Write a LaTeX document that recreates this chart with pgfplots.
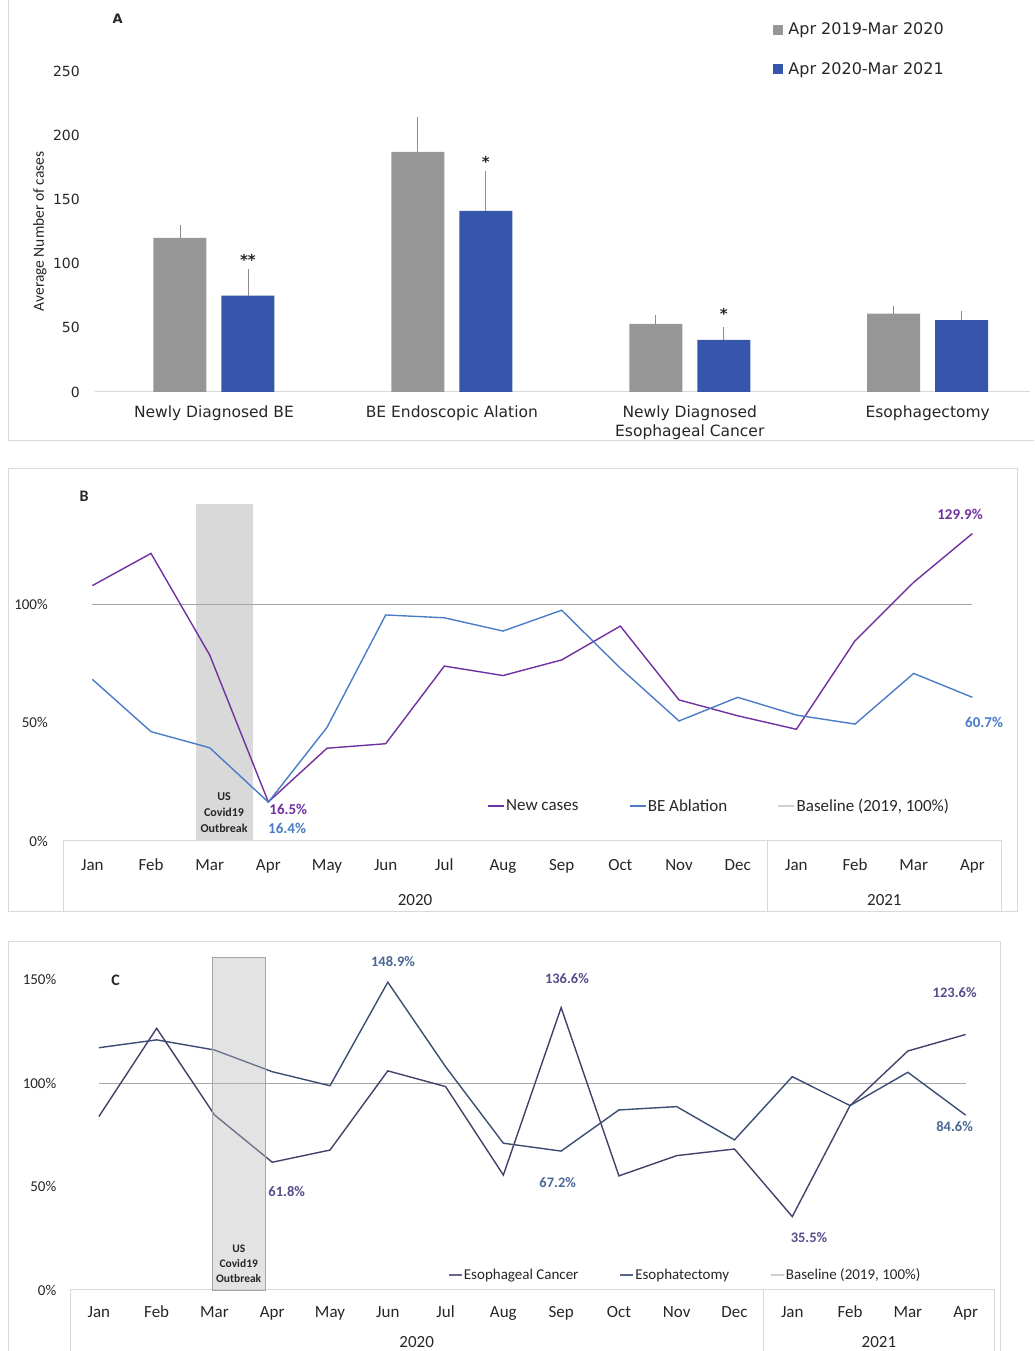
\documentclass[border=0pt]{standalone}
\usepackage{fontspec}
\setmainfont{Carlito}
\newfontfamily\verd{DejaVu Sans}
\usepackage{pgfplots}
\usepackage{pgfplotstable}
\pgfplotsset{compat=1.18}

\definecolor{framegray}{HTML}{D9D9D9}
\definecolor{bargray}{HTML}{969696}
\definecolor{barblue}{HTML}{3656AC}
\definecolor{errgray}{HTML}{8C8C8C}
\definecolor{purpleB}{HTML}{7030A0}
\definecolor{blueB}{HTML}{4A7CC8}
\definecolor{basegray}{HTML}{A6A6A6}
\definecolor{legbase}{HTML}{D0D0D0}
\definecolor{purpleC}{HTML}{45406A}
\definecolor{blueC}{HTML}{3A4D72}
\definecolor{lblpurpleC}{HTML}{5A4B8C}
\definecolor{lblblueC}{HTML}{4A6896}
\definecolor{txt}{HTML}{262626}
\definecolor{shade}{HTML}{D9D9D9}

% Panel B data (percent of 2019 baseline)
\pgfplotstableread{
idx newcases ablation
0  107.9 68.3
1  121.5 46.2
2  78.6  39.4
3  16.5  16.4
4  39.2  48.0
5  41.1  95.5
6  73.9  94.3
7  69.9  88.7
8  76.5  97.5
9  90.8  73.0
10 59.6  50.7
11 52.9  60.7
12 47.2  53.2
13 84.6  49.4
14 109.3 70.8
15 129.9 60.7
}\tableB

% Panel C data
\pgfplotstableread{
idx cancer esophagectomy
0  83.9  117.2
1  126.6 121.0
2  84.7  116.1
3  61.8  105.6
4  67.7  98.8
5  106.0 148.9
6  98.4  108.0
7  55.6  71.0
8  136.6 67.2
9  55.2  87.1
10 65.0  88.7
11 68.2  72.6
12 35.5  103.2
13 89.2  89.2
14 115.6 105.3
15 123.6 84.6
}\tableC

\begin{document}
\begin{tikzpicture}
\path[use as bounding box] (0pt,0pt) rectangle (1034pt,1351pt);
\begin{scope}
\clip (0pt,0pt) rectangle (1034pt,1351pt);
% panel frames
\draw[framegray, line width=1pt] (8pt,910pt) rectangle (1045pt,1360pt);
\draw[framegray, line width=1pt] (8pt,439pt) rectangle (1017pt,882pt);
\draw[framegray, line width=1pt] (8pt,-10pt) rectangle (1000pt,409pt);

% ================= Panel A =================
\begin{axis}[
  at={(95pt,959pt)}, anchor=south west, scale only axis,
  width=935pt, height=321pt,
  xmin=-0.5, xmax=3.43, ymin=0, ymax=250,
  clip=false,
  axis line style={draw=none}, tick style={draw=none},
  xtick={0,1,2,3},
  xticklabels={Newly Diagnosed BE, BE Endoscopic Alation, {Newly Diagnosed\\Esophageal Cancer}, Esophagectomy},
  xticklabel style={font=\verd\fontsize{15.5}{19}\selectfont, align=center, anchor=north, inner sep=0pt, yshift=-14pt, text=txt},
  ytick={0,50,100,150,200,250},
  yticklabels={0,50,100,150,200,250},
  yticklabel style={font=\verd\fontsize{14}{14}\selectfont, anchor=east, inner sep=0pt, xshift=-15pt, text=txt},
  legend image code/.code={\fill[#1] (0pt,-4.5pt) rectangle (9pt,4.5pt);},
  legend style={at={(axis description cs:0.725,1.153)}, anchor=north west, draw=none, fill=none,
    inner sep=0pt, row sep=24pt, font=\verd\fontsize{16}{16}\selectfont, text=txt,
    nodes={inner sep=1pt}, cells={anchor=west},
    /tikz/every odd column/.append style={column sep=5pt}},
]
\draw[framegray, line width=1pt] (axis description cs:0,0) -- (axis description cs:1,0);
\addplot[ybar, bar width=53pt, bar shift=-34pt, fill=bargray, draw=none, forget plot]
  coordinates {(0,120) (1,187) (2,53) (3,61)};
\addplot[ybar, bar width=53pt, bar shift=34pt, fill=barblue, draw=none, forget plot]
  coordinates {(0,75) (1,141) (2,40.5) (3,56)};
% error bars (upper only) at the bar centres
\addplot[draw=none, forget plot,
  error bars/.cd, y dir=plus, y explicit, error mark=|,
  error bar style={draw=errgray, line width=0.8pt},
  error mark options={draw=errgray, mark size=2.5pt, line width=0.8pt, rotate=90}]
  coordinates {(-0.143,120) +- (0,8) (0.857,187) +- (0,25.6) (1.857,53) +- (0,5) (2.857,61) +- (0,4)};
\addplot[draw=none, forget plot,
  error bars/.cd, y dir=plus, y explicit, error mark=|,
  error bar style={draw=errgray, line width=0.8pt},
  error mark options={draw=errgray, mark size=2.5pt, line width=0.8pt, rotate=90}]
  coordinates {(0.143,75) +- (0,18.5) (1.143,141) +- (0,29) (2.143,40.5) +- (0,8.5) (3.143,56) +- (0,5.5)};
\addlegendimage{bargray}
\addlegendentry{Apr 2019-Mar 2020}
\addlegendimage{barblue}
\addlegendentry{Apr 2020-Mar 2021}
\node[font=\verd\bfseries\fontsize{15}{15}\selectfont, text=txt, xshift=34pt] at (axis cs:0,103) {**};
\node[font=\verd\bfseries\fontsize{15}{15}\selectfont, text=txt, xshift=34pt] at (axis cs:1,179) {*};
\node[font=\verd\bfseries\fontsize{15}{15}\selectfont, text=txt, xshift=34pt] at (axis cs:2,61) {*};
\node[font=\verd\bfseries\fontsize{13}{13}\selectfont, text=txt] at (axis cs:-0.405,291) {A};
\node[font=\fontsize{15.5}{15.5}\selectfont, text=txt, rotate=90] at (axis cs:-0.732,125) {Average Number of cases};
\end{axis}

% ================= Panel B =================
\begin{axis}[
  at={(63pt,510pt)}, anchor=south west, scale only axis,
  width=938.7pt, height=343.2pt,
  xmin=-0.5, xmax=15.5, ymin=0, ymax=145,
  clip=false,
  axis line style={draw=none}, tick style={draw=none},
  xtick={0,...,15},
  xticklabels={Jan,Feb,Mar,Apr,May,Jun,Jul,Aug,Sep,Oct,Nov,Dec,Jan,Feb,Mar,Apr},
  xticklabel style={font=\fontsize{17}{17}\selectfont, anchor=base, inner sep=0pt, yshift=-30pt, text=txt},
  ytick={0,50,100}, yticklabels={0\%,50\%,100\%},
  yticklabel style={font=\fontsize{15}{15}\selectfont, anchor=east, inner sep=0pt, xshift=-15pt, text=txt},
  legend columns=3,
  legend image code/.code={\draw[#1] (0pt,0pt) -- (16pt,0pt);},
  legend style={at={(axis description cs:0.4517,0.102)}, anchor=west, draw=none, fill=none,
    inner sep=0pt, font=\fontsize{17}{17}\selectfont, text=txt,
    nodes={inner sep=1.5pt},
    /tikz/every even column/.append style={column sep=49pt}},
]
\addplot[fill=shade, draw=none, forget plot] coordinates {(1.77,0) (1.77,142.4) (2.74,142.4) (2.74,0)} -- cycle;
\draw[framegray, line width=1pt] (axis cs:-0.5,0) -- (axis cs:15.5,0);
\draw[framegray, line width=1pt] (axis cs:-0.5,0) -- ++(0pt,-71pt);
\draw[framegray, line width=1pt] (axis cs:11.5,0) -- ++(0pt,-71pt);
\draw[framegray, line width=1pt] (axis cs:15.5,0) -- ++(0pt,-71pt);
\addplot[basegray, line width=1pt, forget plot] coordinates {(0,100) (15,100)};
\addplot[purpleB, line width=1.4pt, forget plot] table[x=idx, y=newcases] {\tableB};
\addplot[blueB, line width=1.4pt, forget plot] table[x=idx, y=ablation] {\tableB};
\addlegendimage{purpleB, line width=1.4pt}
\addlegendentry{New cases}
\addlegendimage{blueB, line width=1.4pt}
\addlegendentry{BE Ablation}
\addlegendimage{legbase, line width=1.4pt}
\addlegendentry{Baseline (2019, 100\%)}
\node[font=\fontsize{17}{17}\selectfont, text=txt, yshift=-59pt] at (axis cs:5.5,0) {2020};
\node[font=\fontsize{17}{17}\selectfont, text=txt, yshift=-59pt] at (axis cs:13.5,0) {2021};
\node[font=\bfseries\fontsize{12}{16}\selectfont, text=txt, align=center] at (axis cs:2.245,11.8) {US\\Covid19\\Outbreak};
\node[font=\bfseries\fontsize{15}{15}\selectfont, text=purpleB] at (axis cs:3.34,13.5) {16.5\%};
\node[font=\bfseries\fontsize{15}{15}\selectfont, text=blueB] at (axis cs:3.32,5.5) {16.4\%};
\node[font=\bfseries\fontsize{15}{15}\selectfont, text=purpleB] at (axis cs:14.79,138.1) {129.9\%};
\node[font=\bfseries\fontsize{15}{15}\selectfont, text=blueB] at (axis cs:15.2,49.9) {60.7\%};
\node[font=\bfseries\fontsize{16}{16}\selectfont, text=txt] at (axis cs:-0.14,145.8) {B};
\end{axis}

% ================= Panel C =================
\begin{axis}[
  at={(70pt,61pt)}, anchor=south west, scale only axis,
  width=924.5pt, height=341.1pt,
  xmin=-0.5, xmax=15.5, ymin=0, ymax=165,
  clip=false,
  axis line style={draw=none}, tick style={draw=none},
  xtick={0,...,15},
  xticklabels={Jan,Feb,Mar,Apr,May,Jun,Jul,Aug,Sep,Oct,Nov,Dec,Jan,Feb,Mar,Apr},
  xticklabel style={font=\fontsize{17}{17}\selectfont, anchor=base, inner sep=0pt, yshift=-27.5pt, text=txt},
  ytick={0,50,100,150}, yticklabels={0\%,50\%,100\%,150\%},
  yticklabel style={font=\fontsize{15}{15}\selectfont, anchor=east, inner sep=0pt, xshift=-13.5pt, text=txt},
  legend columns=3,
  legend image code/.code={\draw[#1] (0pt,0pt) -- (13pt,0pt);},
  legend style={at={(axis description cs:0.409,0.044)}, anchor=west, draw=none, fill=none,
    inner sep=0pt, font=\fontsize{15}{15}\selectfont, text=txt,
    nodes={inner sep=1.2pt},
    /tikz/every even column/.append style={column sep=40pt}},
]
\draw[framegray, line width=1pt] (axis cs:-0.5,0) -- (axis cs:15.5,0);
\draw[framegray, line width=1pt] (axis cs:-0.5,0) -- ++(0pt,-75pt);
\draw[framegray, line width=1pt] (axis cs:11.5,0) -- ++(0pt,-75pt);
\draw[framegray, line width=1pt] (axis cs:15.5,0) -- ++(0pt,-75pt);
\addplot[basegray, line width=1.2pt, forget plot] coordinates {(0,100) (15,100)};
\addplot[purpleC, line width=1.4pt, forget plot] table[x=idx, y=cancer] {\tableC};
\addplot[blueC, line width=1.4pt, forget plot] table[x=idx, y=esophagectomy] {\tableC};
\addplot[fill=gray!55, fill opacity=0.4, draw=basegray, line width=0.8pt, forget plot] coordinates {(1.97,0) (1.97,161) (2.885,161) (2.885,0)} -- cycle;
\addlegendimage{purpleC!80!white, line width=1.4pt}
\addlegendentry{Esophageal Cancer}
\addlegendimage{blueC!85!white, line width=1.4pt}
\addlegendentry{Esophatectomy}
\addlegendimage{legbase, line width=1.4pt}
\addlegendentry{Baseline (2019, 100\%)}
\node[font=\fontsize{17}{17}\selectfont, text=txt, yshift=-52pt] at (axis cs:5.5,0) {2020};
\node[font=\fontsize{17}{17}\selectfont, text=txt, yshift=-52pt] at (axis cs:13.5,0) {2021};
\node[font=\bfseries\fontsize{11.5}{15}\selectfont, text=txt, align=center] at (axis cs:2.42,12.6) {US\\Covid19\\Outbreak};
\node[font=\bfseries\fontsize{14.5}{14.5}\selectfont, text=lblblueC] at (axis cs:5.09,158.7) {148.9\%};
\node[font=\bfseries\fontsize{14.5}{14.5}\selectfont, text=lblpurpleC] at (axis cs:3.25,47.4) {61.8\%};
\node[font=\bfseries\fontsize{14.5}{14.5}\selectfont, text=lblpurpleC] at (axis cs:8.1,150.5) {136.6\%};
\node[font=\bfseries\fontsize{14.5}{14.5}\selectfont, text=lblblueC] at (axis cs:7.94,52.2) {67.2\%};
\node[font=\bfseries\fontsize{14.5}{14.5}\selectfont, text=lblpurpleC] at (axis cs:12.29,25.2) {35.5\%};
\node[font=\bfseries\fontsize{14.5}{14.5}\selectfont, text=lblpurpleC] at (axis cs:14.81,143.7) {123.6\%};
\node[font=\bfseries\fontsize{14.5}{14.5}\selectfont, text=lblblueC] at (axis cs:14.81,78.9) {84.6\%};
\node[font=\bfseries\fontsize{16}{16}\selectfont, text=txt] at (axis cs:0.29,150) {C};
\end{axis}
\end{scope}
\end{tikzpicture}
\end{document}
